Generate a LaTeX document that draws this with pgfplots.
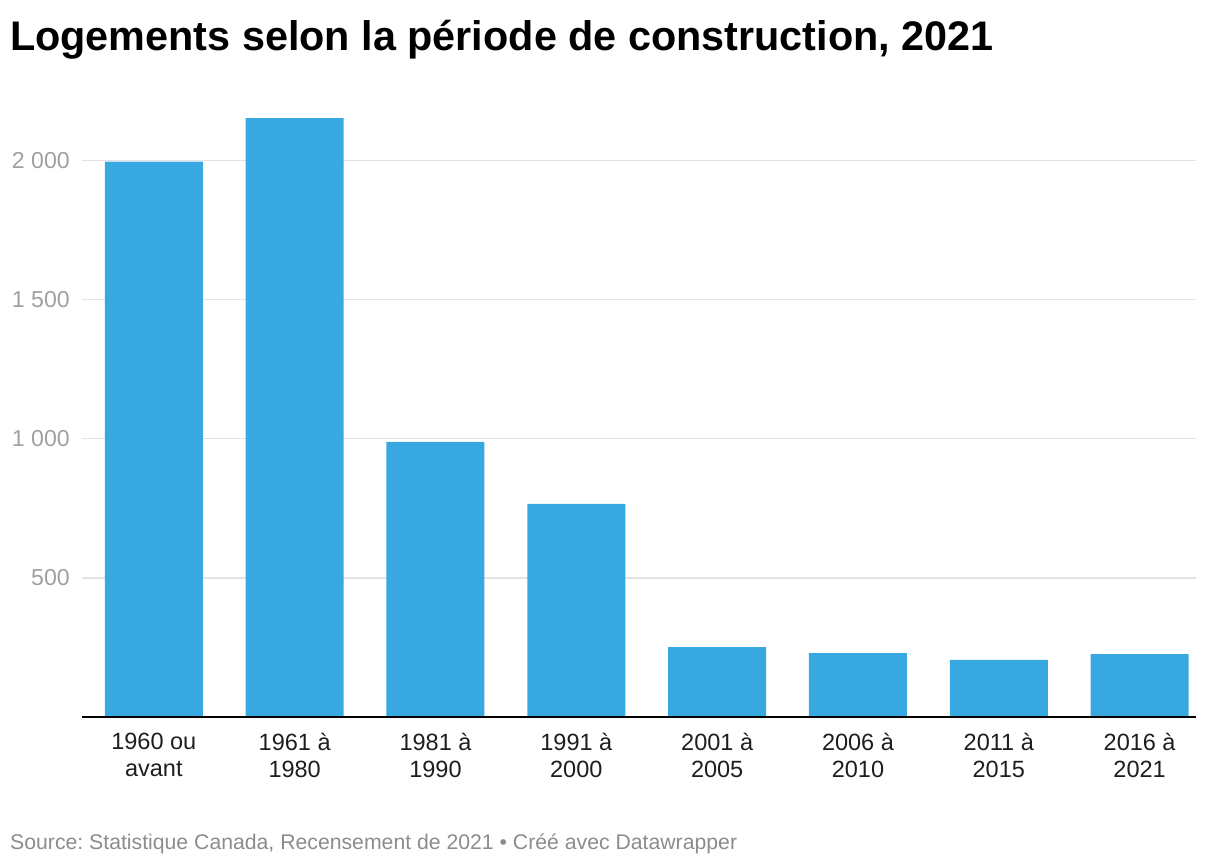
\documentclass[border=0pt]{standalone}
\usepackage{pgfplots}
\pgfplotsset{compat=1.18}
\usepackage{fontspec}
\setmainfont{Liberation Sans}
\definecolor{barc}{HTML}{38A9E0}
\definecolor{gridc}{HTML}{E3E3E3}
\definecolor{ytc}{HTML}{A0A0A0}
\definecolor{srcc}{HTML}{8C8C8C}
\definecolor{xtc}{HTML}{1E1E1E}
\begin{document}
\frenchspacing
\begin{tikzpicture}[x=1bp,y=1bp]
\useasboundingbox (0,0) rectangle (1220,866);
\node[anchor=base west, inner sep=0, font=\bfseries\fontsize{41.5}{41.5}\selectfont] at (10,815) {Logements selon la période de construction, 2021};
\node[anchor=base west, inner sep=0, text=srcc, font=\fontsize{21.3}{21.3}\selectfont] at (10,16) {Source: Statistique Canada, Recensement de 2021 • Créé avec Datawrapper};
\begin{axis}[at={(82bp,149bp)}, anchor=south west, scale only axis,
  width=1114bp, height=600.8bp,
  xmin=-0.51, xmax=7.4, ymin=0, ymax=2160,
  ybar, bar width=0.696,
  axis line style={draw=none},
  major tick length=0pt,
  ymajorgrids, grid style={gridc, line width=1.3bp},
  ytick={500,1000,1500,2000},
  yticklabels={500,1 000,1 500,2 000},
  yticklabel style={text=ytc, font=\fontsize{23.2}{23.2}\selectfont, inner sep=0pt, xshift=-12bp},
  xtick={0,1,2,3,4,5,6,7},
  xticklabels={{1960 ou\\avant},{1961 à\\1980},{1981 à\\1990},{1991 à\\2000},{2001 à\\2005},{2006 à\\2010},{2011 à\\2015},{2016 à\\2021}},
  xticklabel style={text=xtc, align=center, font=\fontsize{23.6}{27}\selectfont, inner sep=0pt, yshift=-16bp},
  clip=false,
]
\addplot[fill=barc, draw=none] coordinates {(0,1997) (1,2153) (2,989) (3,766) (4,251) (5,230) (6,205) (7,226)};
\draw[black, line width=2bp] (rel axis cs:0,0) -- (rel axis cs:1,0);
\end{axis}
\end{tikzpicture}
\end{document}
